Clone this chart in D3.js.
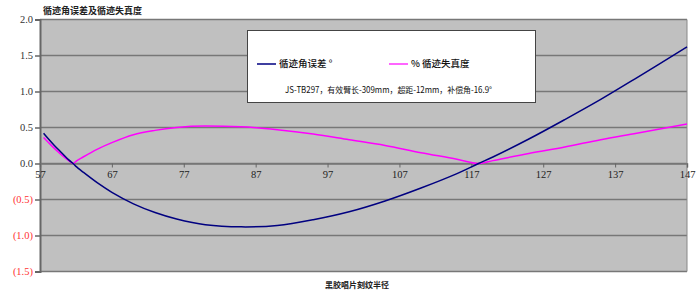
<!DOCTYPE html>
<html>
<head>
<meta charset="utf-8">
<script src="https://cdn.jsdelivr.net/npm/d3@7"></script>
<style>
  body { margin: 0; background: #fff; }
  svg { display: block; }
</style>
</head>
<body>
<svg id="chart" width="700" height="296"></svg>
<script>
// Données
var radius = [57.5, 58, 59, 60, 61, 61.6, 62, 63, 65, 67, 70, 73, 76, 80, 85, 90, 95, 100, 105, 110, 115, 118, 120, 125, 130, 135, 140, 147]
var angleError = [0.42, 0.36, 0.25, 0.15, 0.05, 0.00, -0.04, -0.12, -0.27, -0.40, -0.56, -0.68, -0.77, -0.85, -0.88, -0.86, -0.78, -0.67, -0.52, -0.34, -0.14, 0.00, 0.09, 0.34, 0.61, 0.89, 1.19, 1.62]
var distortion = [0.36, 0.31, 0.21, 0.12, 0.04, 0.00, 0.03, 0.09, 0.20, 0.29, 0.40, 0.46, 0.50, 0.52, 0.51, 0.47, 0.41, 0.33, 0.25, 0.15, 0.06, 0.00, 0.04, 0.14, 0.23, 0.33, 0.42, 0.55]
var xTicks = [57, 67, 77, 87, 97, 107, 117, 127, 137, 147]
var yTicks = [-1.5, -1.0, -0.5, 0.0, 0.5, 1.0, 1.5, 2.0]

var title = '循迹角误差及循迹失真度'
var xTitle = '黑胶唱片刻纹半径'
var seriesNames = ['循迹角误差 °', '% 循迹失真度']
var note = 'JS-TB297，有效臂长-309mm，超距-12mm，补偿角-16.9°'

// Dimensions
var margin = { top: 19.5, right: 13, bottom: 24.5, left: 40 }
var width = 700
var height = 296
var graphWidth = width - margin.left - margin.right
var graphHeight = height - margin.top - margin.bottom

var serif = '"Liberation Serif", "Times New Roman", serif'
var cjk = '"Noto Sans CJK SC", sans-serif'

var svg = d3.select('#chart')

var xScale = d3.scaleLinear().domain([57, 147]).range([0, graphWidth])
var yScale = d3.scaleLinear().domain([-1.5, 2.0]).range([graphHeight, 0])

var graph = svg.append('g')
  .attr('transform', 'translate(' + margin.left + ',' + margin.top + ')')

// fond gris
graph.append('rect')
  .attr('width', graphWidth)
  .attr('height', graphHeight)
  .attr('fill', '#c0c0c0')

// lignes de grille
graph.selectAll('.grid')
  .data(yTicks)
  .enter()
  .append('line')
  .attr('class', 'grid')
  .attr('x1', 0)
  .attr('x2', graphWidth)
  .attr('y1', function (d) { return yScale(d) })
  .attr('y2', function (d) { return yScale(d) })
  .attr('stroke', '#777')
  .attr('stroke-width', 1.5)

// bord droit
graph.append('line')
  .attr('x1', graphWidth).attr('x2', graphWidth)
  .attr('y1', 0).attr('y2', graphHeight)
  .attr('stroke', '#888')
  .attr('stroke-width', 1)

// axe des ordonnées
var yAxis = graph.append('g')
  .call(d3.axisLeft(yScale)
    .tickValues(yTicks)
    .tickSize(5)
    .tickPadding(2)
    .tickFormat(function (d) { return d < 0 ? '(' + Math.abs(d).toFixed(1) + ')' : d.toFixed(1) }))
yAxis.select('.domain').attr('stroke', '#666').attr('stroke-width', 2)
yAxis.selectAll('.tick line').attr('stroke', '#666').attr('stroke-width', 1.5)
yAxis.selectAll('.tick text')
  .attr('font-family', serif)
  .attr('font-size', 10.5)
  .attr('fill', function (d) { return d < 0 ? '#ff3333' : '#333' })

// axe des abscisses (à y = 0)
var xAxis = graph.append('g')
  .attr('transform', 'translate(0,' + yScale(0) + ')')
  .call(d3.axisBottom(xScale)
    .tickValues(xTicks)
    .tickSize(4)
    .tickPadding(3)
    .tickFormat(d3.format('d')))
xAxis.select('.domain').attr('stroke', '#777').attr('stroke-width', 1.5)
xAxis.selectAll('.tick line').attr('stroke', '#666')
xAxis.selectAll('.tick text')
  .attr('font-family', serif)
  .attr('font-size', 10.5)
  .attr('fill', '#222')

// courbes
var points = radius.map(function (r, i) {
  return { r: r, err: angleError[i], dist: distortion[i] }
})

var errLine = d3.line()
  .x(function (d) { return xScale(d.r) })
  .y(function (d) { return yScale(d.err) })
  .curve(d3.curveCatmullRom.alpha(0.5))

var distLine = d3.line()
  .x(function (d) { return xScale(d.r) })
  .y(function (d) { return yScale(d.dist) })
  .curve(d3.curveMonotoneX)

graph.append('path')
  .datum(points)
  .attr('d', distLine)
  .attr('fill', 'none')
  .attr('stroke', '#ff00ff')
  .attr('stroke-width', 1.5)

graph.append('path')
  .datum(points)
  .attr('d', errLine)
  .attr('fill', 'none')
  .attr('stroke', '#000080')
  .attr('stroke-width', 1.5)

// légende
var legend = svg.append('g').attr('class', 'legend')
legend.append('rect')
  .attr('x', 247.5).attr('y', 30.5)
  .attr('width', 288).attr('height', 72)
  .attr('fill', '#fff')
  .attr('stroke', '#444')
  .attr('stroke-width', 1)

var legendItems = [
  { name: seriesNames[0], color: '#3f3fa0', x: 257 },
  { name: seriesNames[1], color: '#ff66ff', x: 389 }
]
legendItems.forEach(function (d) {
  legend.append('line')
    .attr('x1', d.x).attr('x2', d.x + 19)
    .attr('y1', 64).attr('y2', 64)
    .attr('stroke', d.color)
    .attr('stroke-width', 2)
  legend.append('text')
    .attr('x', d.x + 22)
    .attr('y', 64)
    .attr('dy', '0.35em')
    .attr('font-family', cjk)
    .attr('font-size', 9.5)
    .attr('font-weight', 500)
    .attr('fill', '#111')
    .text(d.name)
})

legend.append('text')
  .attr('x', 285)
  .attr('y', 90)
  .attr('dy', '0.35em')
  .attr('font-family', cjk)
  .attr('font-size', 8.5)
  .attr('textLength', 207)
  .attr('lengthAdjust', 'spacingAndGlyphs')
  .attr('fill', '#111')
  .text(note)

// titres
svg.append('text')
  .attr('x', 43)
  .attr('y', 11)
  .attr('dy', '0.35em')
  .attr('font-family', cjk)
  .attr('font-size', 9)
  .attr('font-weight', 'bold')
  .attr('fill', '#222')
  .text(title)

svg.append('text')
  .attr('x', 357)
  .attr('y', 285)
  .attr('dy', '0.35em')
  .attr('text-anchor', 'middle')
  .attr('font-family', cjk)
  .attr('font-size', 8)
  .attr('font-weight', 'bold')
  .attr('fill', '#222')
  .text(xTitle)
</script>
</body>
</html>
